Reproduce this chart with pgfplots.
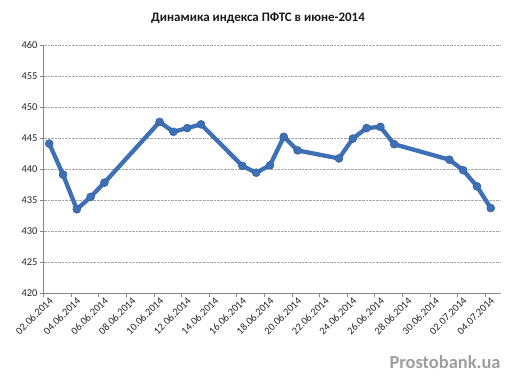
\documentclass[border=0pt]{standalone}
\usepackage{pgfplots}
\pgfplotsset{compat=1.18}
\usepackage{fontspec}
\setmainfont{Carlito}
\definecolor{serblue}{RGB}{61,112,181}
\definecolor{axgray}{RGB}{134,134,134}
\begin{document}
\begin{tikzpicture}
\begin{axis}[
  name=ax,
  at={(0,0)}, anchor=south west,
  scale only axis,
  width=456.3bp, height=248bp,
  xmin=-0.4, xmax=32.67,
  ymin=420, ymax=460,
  ytick={420,425,430,435,440,445,450,455,460},
  xtick={-0.4,1.6,3.6,5.6,7.6,9.6,11.6,13.6,15.6,17.6,19.6,21.6,23.6,25.6,27.6,29.6,31.6},
  xticklabels={02.06.2014,04.06.2014,06.06.2014,08.06.2014,10.06.2014,12.06.2014,14.06.2014,16.06.2014,18.06.2014,20.06.2014,22.06.2014,24.06.2014,26.06.2014,28.06.2014,30.06.2014,02.07.2014,04.07.2014},
  axis x line*=bottom, axis y line*=left,
  axis line style={axgray, line width=0.8bp, -},
  tick style={axgray, line width=0.8bp},
  tick align=outside,
  major tick length=4bp,
  ymajorgrids,
  grid style={densely dotted, gray!70, line width=0.7bp},
  tick label style={font=\fontsize{10.5}{12}\selectfont, text=black!85},
  /pgf/number format/assume math mode=true,
  xticklabel style={rotate=45, anchor=north east, inner sep=1bp, xshift=5bp, yshift=-2bp},
  yticklabel style={inner sep=2bp},
  clip=false,
]
\addplot[serblue, line width=4.3bp, line join=round, mark=*, mark size=4bp, mark options={fill=serblue, draw=serblue!85!black, line width=0.5bp}]
 coordinates {
 (0,444.1) (1,439.1) (2,433.5) (3,435.5) (4,437.8)
 (8,447.6) (9,446.0) (10,446.6) (11,447.2)
 (14,440.5) (15,439.4) (16,440.6) (17,445.2) (18,443.0)
 (21,441.7) (22,444.9) (23,446.6) (24,446.8) (25,444.0)
 (29,441.5) (30,439.8) (31,437.2) (32,433.7)
 };
\end{axis}
\node[font=\bfseries\fontsize{13}{15}\selectfont, text=black!90] at (214.3bp,275bp) {Динамика индекса ПФТС в июне-2014};
\node[font=\bfseries\fontsize{18.5}{20}\selectfont, text=black!38] at (401.3bp,-69bp) {Prostobank.ua};
\pgfresetboundingbox
\useasboundingbox (-43.7bp,-88bp) rectangle (473.3bp,293bp);
\end{tikzpicture}
\end{document}
